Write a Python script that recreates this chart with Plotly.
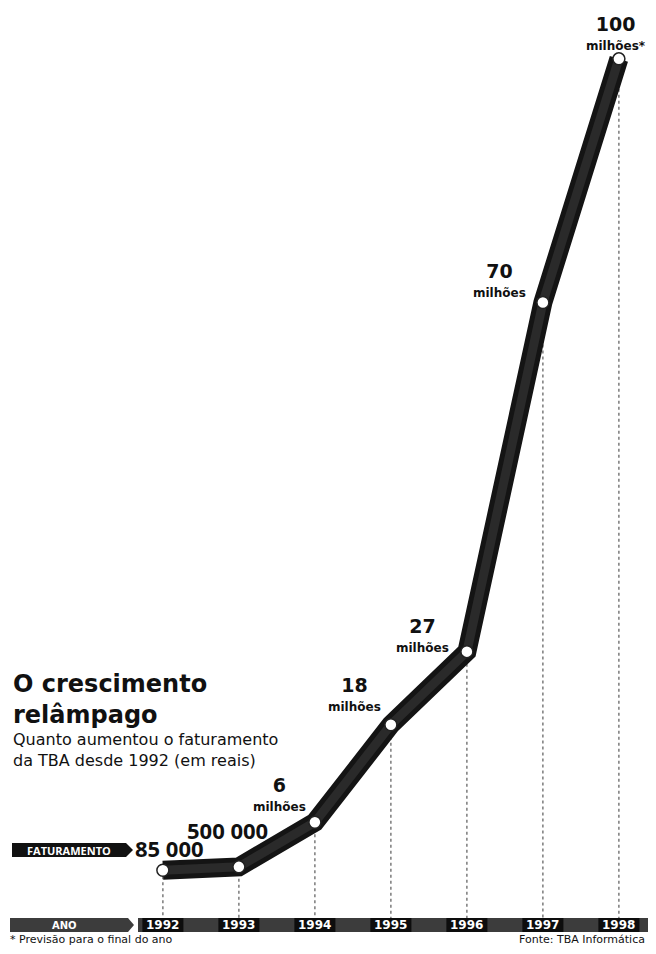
import plotly.graph_objects as go

# ---------------- data ----------------
years = [1992, 1993, 1994, 1995, 1996, 1997, 1998]
revenue_millions = [0.085, 0.5, 6, 18, 27, 70, 100]
value_labels = ["85 000", "500 000", "6", "18", "27", "70", "100"]
unit_labels = ["", "", "milhões", "milhões", "milhões", "milhões", "milhões*"]
year_labels = ["1992", "1993", "1994", "1995", "1996", "1997", "1998"]

title_lines = ["O crescimento", "relâmpago"]
subtitle_lines = ["Quanto aumentou o faturamento", "da TBA desde 1992 (em reais)"]
footnote = "* Previsão para o final do ano"
source = "Fonte: TBA Informática"

# ---------------- layout helpers ----------------
# page body has an 8px margin, so the figure covers page pixels 8..648 x 8..946
OFF = 8
W, H = 640, 938
X_RANGE = [1989.962, 1998.383]
Y_RANGE = [-9.244, 106.26]


def px(xp):
    """page x pixel -> paper x"""
    return (xp - OFF) / W


def py(yp):
    """page y pixel -> paper y"""
    return 1 - (yp - OFF) / H


def y_val(yp):
    """page y pixel -> data value"""
    return Y_RANGE[1] - ((yp - OFF) / H) * (Y_RANGE[1] - Y_RANGE[0])


FONT = "Open Sans, Lato, DejaVu Sans, sans-serif"
FONT_WIDE = "DejaVu Sans, Open Sans, sans-serif"
INK = "#111111"

fig = go.Figure()

# thick band
fig.add_trace(go.Scatter(
    x=years, y=revenue_millions, mode="lines",
    line=dict(color="#141414", width=19),
    hoverinfo="skip", showlegend=False,
))
fig.add_trace(go.Scatter(
    x=years, y=revenue_millions, mode="lines",
    line=dict(color="#2a2a2a", width=9),
    hoverinfo="skip", showlegend=False,
))
# white markers
fig.add_trace(go.Scatter(
    x=years, y=revenue_millions, mode="markers",
    marker=dict(color="white", size=12, line=dict(color="#222", width=1.5)),
    hoverinfo="skip", showlegend=False,
))

shapes = []
bar_top_px, bar_bot_px = 918, 932
bar_mid_px = (bar_top_px + bar_bot_px) / 2

# drop lines from each point to the year bar
for yr, v in zip(years, revenue_millions):
    shapes.append(dict(
        type="line", xref="x", yref="y", x0=yr, x1=yr, y0=v, y1=y_val(bar_top_px),
        line=dict(color="#666", width=1.3, dash="dot"), layer="below",
    ))

# "ANO" arrow box
shapes.append(dict(
    type="path", xref="paper", yref="paper",
    path=f"M {px(10)} {py(bar_top_px)} L {px(128)} {py(bar_top_px)} L {px(134)} {py(bar_mid_px)} "
         f"L {px(128)} {py(bar_bot_px)} L {px(10)} {py(bar_bot_px)} Z",
    fillcolor="#3c3c3c", line=dict(width=0),
))
# year bar
shapes.append(dict(
    type="rect", xref="paper", yref="paper",
    x0=px(138), x1=px(660), y0=py(bar_bot_px), y1=py(bar_top_px),
    fillcolor="#3c3c3c", line=dict(width=0),
))
# black patches behind year labels
for yr in years:
    shapes.append(dict(
        type="rect", xref="x", yref="paper",
        x0=yr - 0.27, x1=yr + 0.27, y0=py(bar_bot_px), y1=py(bar_top_px),
        fillcolor="#0d0d0d", line=dict(width=0),
    ))
# FATURAMENTO arrow box
shapes.append(dict(
    type="path", xref="paper", yref="paper",
    path=f"M {px(12)} {py(843)} L {px(126)} {py(843)} L {px(133)} {py(850)} "
         f"L {px(126)} {py(857)} L {px(12)} {py(857)} Z",
    fillcolor="#111", line=dict(width=0),
))

annotations = []


def note(x, y, text, size, color=INK, xref="paper", yref="paper",
         xanchor="center", yanchor="middle", xshift=0, yshift=0, family=FONT,
         align="center"):
    annotations.append(dict(
        x=x, y=y, xref=xref, yref=yref, text=text, showarrow=False,
        xanchor=xanchor, yanchor=yanchor, xshift=xshift, yshift=yshift,
        align=align, font=dict(family=family, size=size, color=color),
    ))


# year labels
for yr, lab in zip(years, year_labels):
    note(yr, py(bar_mid_px), f"<b>{lab}</b>", 12, color="white", xref="x",
         family=FONT_WIDE)
note(px(64), py(bar_mid_px), "<b>ANO</b>", 10, color="white", family=FONT_WIDE)
note(px(69), py(850), "<b>FATURAMENTO</b>", 11, color="white")

# small values (thousands) next to the FATURAMENTO label
small_offsets = {0: (7, 22), 1: (-11, 37)}
for i, (dx, dy) in small_offsets.items():
    note(years[i], revenue_millions[i], f"<b>{value_labels[i]}</b>", 22,
         xref="x", yref="y", xshift=dx, yshift=dy)

# million labels: number + unit in one block (offsets in px from each point)
block_offsets = {2: (-35, 28), 3: (-36, 31), 4: (-44, 17), 5: (-43, 22), 6: (-3, 26)}
for i, (dx, dy) in block_offsets.items():
    txt = (f"<span style='font-size:19px'><b>{value_labels[i]}</b></span>"
           f"<br><span style='font-size:12px'><b>{unit_labels[i]}</b></span>")
    note(years[i], revenue_millions[i], txt, 14.5, xref="x", yref="y",
         xshift=dx, yshift=dy, family=FONT_WIDE)

# title & subtitle (each as a single two-line block)
note(px(11), py(699), "<br>".join(f"<b>{t}</b>" for t in title_lines), 24,
     xanchor="left", family=FONT_WIDE, align="left")
note(px(11), py(750), "<br>".join(subtitle_lines), 16,
     xanchor="left", family=FONT_WIDE, align="left")

note(px(8), py(939), footnote, 11, xanchor="left", family=FONT_WIDE)
note(px(647), py(939), source, 11, xanchor="right", family=FONT_WIDE)

fig.update_layout(
    width=W, height=H,
    margin=dict(l=0, r=0, t=0, b=0),
    paper_bgcolor="white", plot_bgcolor="white",
    xaxis=dict(range=X_RANGE, visible=False, fixedrange=True),
    yaxis=dict(range=Y_RANGE, visible=False, fixedrange=True),
    shapes=shapes, annotations=annotations,
    showlegend=False,
)

fig.write_html("out.html")
